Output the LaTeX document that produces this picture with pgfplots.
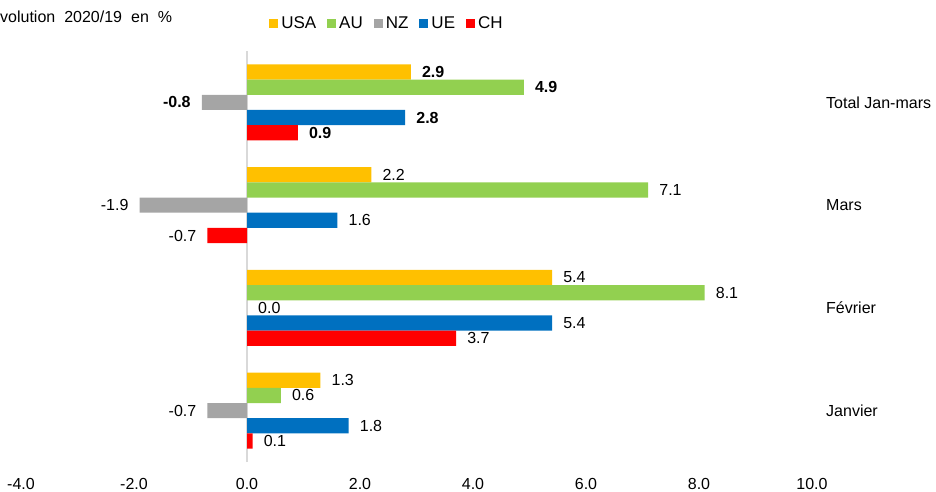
\documentclass[border=0pt]{standalone}
\usepackage{pgfplots}
\pgfplotsset{compat=1.18}
\usepackage{fontspec}
\setmainfont{Liberation Sans}
\definecolor{cusa}{HTML}{FFC000}
\definecolor{cau}{HTML}{92D050}
\definecolor{cnz}{HTML}{A5A5A5}
\definecolor{cue}{HTML}{0070C0}
\definecolor{cch}{HTML}{FF0000}
\newcommand{\fs}{\fontsize{16}{19}\selectfont}

\begin{document}
\begin{tikzpicture}
\path[use as bounding box] (-21pt,-29pt) rectangle (915pt,462pt);
\node[anchor=base west, inner sep=0pt, font=\fs] at (-31.7pt,439pt)
  {Évolution\hspace{9pt}2020/19\hspace{9pt}en\hspace{9pt}\%};
\begin{axis}[
  scale only axis, width=791pt, height=411pt,
  xbar, bar width=15.2pt,
  xmin=-4, xmax=10, ymin=-0.5, ymax=3.5,
  xtick={-4,-2,...,10},
  ytick={0,1,2,3},
  yticklabels={Janvier,Février,Mars,Total Jan-mars},
  yticklabel pos=right,
  major tick length=0pt,
  axis line style={draw=none},
  tick label style={font=\fs},
  /pgf/number format/assume math mode=true,
  xticklabel style={anchor=base, yshift=-27pt, inner sep=0pt,
    /pgf/number format/.cd, fixed, fixed zerofill, precision=1},
  yticklabel style={anchor=west, inner sep=0pt, xshift=14pt},
  extra x ticks={0}, extra x tick labels={},
  extra x tick style={grid=major, major grid style={draw=black!15, line width=1.6pt}},
  visualization depends on={rawy \as \caty},
  nodes near coords={\ifdim\caty pt>2.5pt\bfseries\fi\pgfmathprintnumber[fixed,fixed zerofill,precision=1]{\pgfplotspointmeta}},
  nodes near coords align={horizontal},
  nodes near coords style={font=\fs, text=black, inner xsep=11pt, inner ysep=0pt},
  legend columns=5,
  legend style={at={(0.4614,1.068)}, anchor=center, draw=none, fill=none,
    font=\fontsize{17}{20}\selectfont, inner sep=0pt, nodes={inner sep=0pt},
    /tikz/every odd column/.append style={column sep=3pt},
    /tikz/every even column/.append style={column sep=11pt}},
  sq/.style={draw=none, fill=#1,
    legend image code/.code={\fill[#1] (0pt,-4.5pt) rectangle (9pt,4.5pt);}},
]
\addplot[sq=cusa, bar shift=30.4pt] coordinates {(1.3,0) (5.4,1) (2.2,2) (2.9,3)};
\addlegendentry{USA}
\addplot[sq=cau, bar shift=15.2pt] coordinates {(0.6,0) (8.1,1) (7.1,2) (4.9,3)};
\addlegendentry{AU}
\addplot[sq=cnz, bar shift=0pt] coordinates {(-0.7,0) (0.0,1) (-1.9,2) (-0.8,3)};
\addlegendentry{NZ}
\addplot[sq=cue, bar shift=-15.2pt] coordinates {(1.8,0) (5.4,1) (1.6,2) (2.8,3)};
\addlegendentry{UE}
\addplot[sq=cch, bar shift=-30.4pt] coordinates {(0.1,0) (3.7,1) (-0.7,2) (0.9,3)};
\addlegendentry{CH}
\end{axis}
\end{tikzpicture}
\end{document}
